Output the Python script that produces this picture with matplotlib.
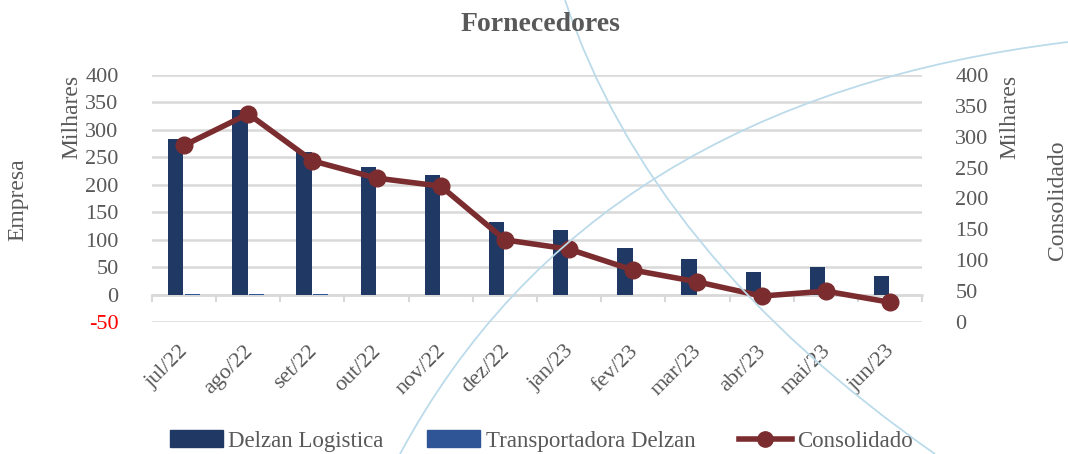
import matplotlib
matplotlib.use("Agg")
import matplotlib.pyplot as plt
import matplotlib.transforms as mtransforms
import numpy as np
from matplotlib.path import Path
from matplotlib.patches import PathPatch, Patch
from matplotlib.lines import Line2D

meses = ["jul/22", "ago/22", "set/22", "out/22", "nov/22", "dez/22",
         "jan/23", "fev/23", "mar/23", "abr/23", "mai/23", "jun/23"]
delzan_logistica = [284, 337, 260, 233, 218, 133, 118, 84, 64, 42, 51, 33]
transportadora = [1.5, 0.5, 1.0, 0, 0, 0, 0, 0, 0, 0, 0, 0]
consolidado = [286, 337, 261, 233, 220, 133, 118, 84, 65, 42, 50, 32]
left_ticks = [-50, 0, 50, 100, 150, 200, 250, 300, 350, 400]
right_ticks = [0, 50, 100, 150, 200, 250, 300, 350, 400]

plt.rcParams['font.family'] = ['Liberation Serif', 'DejaVu Serif']
cinza = '#595959'
grade = '#d9d9d9'

fig = plt.figure(figsize=(10.68, 4.54), dpi=100)
W, H = 1068, 454

# decorative background arcs (pixel coords -> figure fraction)
def arco(p0, c, p2):
    pts = [(x / W, 1 - y / H) for x, y in (p0, c, p2)]
    path = Path(pts, [Path.MOVETO, Path.CURVE3, Path.CURVE3])
    fig.patches.append(PathPatch(path, transform=fig.transFigure, fill=False,
                                 edgecolor='#bcdbea', lw=1.3, zorder=0))

arco((400, 454), (590, 100), (1068, 42))
arco((565, 0), (650, 255), (935, 454))

ax = fig.add_axes([152 / W, 1 - 322 / H, 770 / W, 247 / H])
ax.patch.set_alpha(0)
x = np.arange(len(meses))
w = 0.24
ax.bar(x - 0.13, delzan_logistica, width=w, color='#1f3864', zorder=3)
ax.bar(x + 0.13, transportadora, width=w, color='#2f5597', zorder=3)

ax.set_xlim(-0.5, len(meses) - 0.5)
ax.set_ylim(-50, 400)
ax.set_yticks(left_ticks)
ax.set_yticklabels([str(t) for t in left_ticks])
ax.yaxis.grid(True, color=grade, lw=1.8, zorder=0)
ax.tick_params(axis='y', length=0, pad=24, labelsize=16, labelcolor=cinza)
ax.get_yticklabels()[0].set_color('#ff0000')
for s in ['top', 'right', 'left']:
    ax.spines[s].set_visible(False)
ax.spines['bottom'].set_position(('data', 0))
ax.spines['bottom'].set_color(grade)
ax.spines['bottom'].set_linewidth(1.8)
ax.spines['bottom'].set_zorder(2)
ax.set_xticks(np.arange(len(meses) + 1) - 0.5)
ax.set_xticklabels([])
ax.tick_params(axis='x', which='major', length=5, width=1.5, color=grade)
ax.set_xticks(x, minor=True)
ax.set_xticklabels(meses, minor=True, rotation=45, ha='right',
                   rotation_mode='anchor', fontsize=16, color=cinza)
ax.tick_params(axis='x', which='minor', length=0, pad=34)
shift = mtransforms.ScaledTranslation(-5 / 100, 0, fig.dpi_scale_trans)
for lab in ax.get_xticklabels(minor=True):
    lab.set_transform(lab.get_transform() + shift)

ax2 = ax.twinx()
ax2.plot(x, consolidado, color='#7b2c2f', lw=4, marker='o', markersize=12, zorder=4)
ax2.set_ylim(0, 400)
ax2.set_yticks(right_ticks)
ax2.tick_params(axis='y', length=0, pad=24, labelsize=16, labelcolor=cinza)
for s in ax2.spines.values():
    s.set_visible(False)

fig.text(0.506, 0.945, "Fornecedores", ha='center', va='center',
         fontsize=20, fontweight='bold', color=cinza)
fig.text(18 / W, 1 - 200 / H, "Empresa", rotation=90, ha='center', va='center',
         fontsize=17, color=cinza)
fig.text(72 / W, 1 - 117 / H, "Milhares", rotation=90, ha='center', va='center',
         fontsize=17, color=cinza)
fig.text(1010 / W, 1 - 117 / H, "Milhares", rotation=90, ha='center', va='center',
         fontsize=17, color=cinza)
fig.text(1057 / W, 1 - 200 / H, "Consolidado", rotation=90, ha='center', va='center',
         fontsize=17, color=cinza)

handles = [Patch(color='#1f3864'), Patch(color='#2f5597'),
           Line2D([], [], color='#7b2c2f', lw=4, marker='o', markersize=11)]
fig.legend(handles, ["Delzan Logistica", "Transportadora Delzan", "Consolidado"],
           loc='center', bbox_to_anchor=(0.507, 1 - 441 / H), ncol=3, frameon=False,
           fontsize=16.5, labelcolor=cinza, handlelength=2.3, handleheight=0.7,
           columnspacing=1.9, handletextpad=0.25)

fig.savefig("out.png", dpi=100)
